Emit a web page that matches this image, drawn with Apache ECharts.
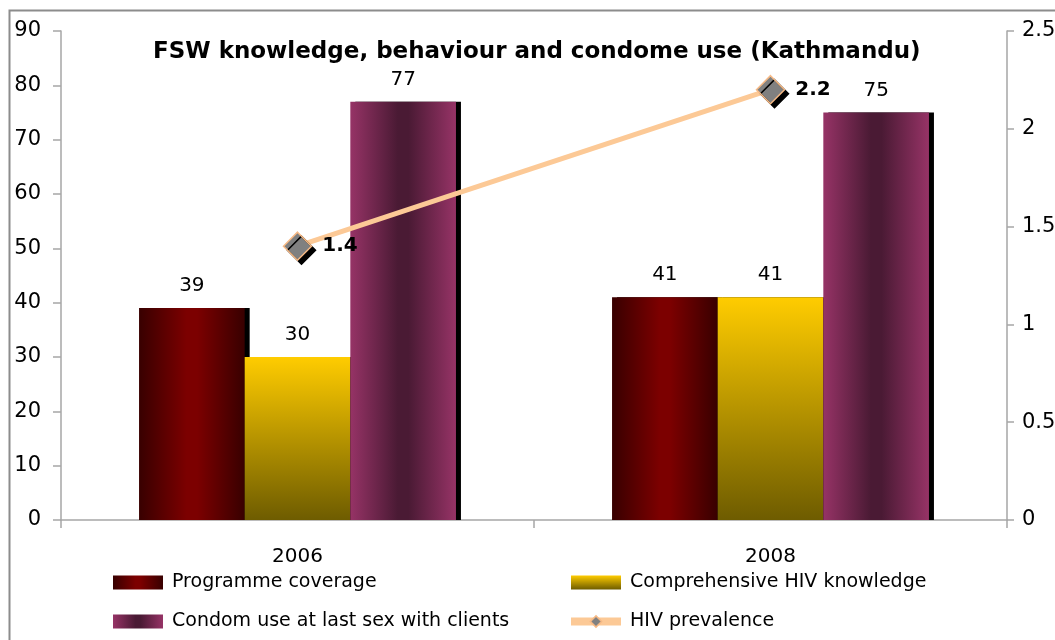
<!DOCTYPE html>
<html>
<head>
<meta charset="utf-8">
<script src="https://cdn.jsdelivr.net/npm/echarts@6/dist/echarts.min.js"></script>
<style>
  html, body { margin: 0; padding: 0; background: #fff; }
  #chart { width: 1055px; height: 640px; }
</style>
</head>
<body>
<div id="chart"></div>
<script>
const years = ['2006', '2008']
const programmeCoverage = [39, 41]
const hivKnowledge = [30, 41]
const condomUse = [77, 75]
const hivPrevalence = [1.4, 2.2]
const leftTicks = [0, 90, 10]
const rightTicks = [0, 2.5, 0.5]

const font = 'DejaVu Sans, sans-serif'

const chart = echarts.init(document.getElementById('chart'))

const hGrad = (edge, mid) => new echarts.graphic.LinearGradient(0, 0, 1, 0, [
	{ offset: 0, color: edge },
	{ offset: 0.45, color: mid },
	{ offset: 0.55, color: mid },
	{ offset: 1, color: edge }
])

const barShadow = {
	shadowColor: '#000',
	shadowOffsetX: 5,
	shadowOffsetY: 0,
	shadowBlur: 0
}

const barLabel = {
	show: true,
	position: 'top',
	distance: 12,
	color: '#000',
	fontSize: 20,
	fontFamily: font
}

const legendText = { fontSize: 19, color: '#000', fontFamily: font, padding: [0, 0, 0, 4] }

const option = {
	backgroundColor: '#fff',
	animation: false,
	textStyle: { fontFamily: font },
	graphic: [{
		type: 'rect',
		left: 7,
		top: 8,
		shape: { width: 1100, height: 700 },
		style: { fill: 'none', stroke: '#8c8c8c', lineWidth: 2 },
		silent: true
	}],
	title: {
		text: 'FSW knowledge, behaviour and condome use (Kathmandu)',
		left: 148,
		top: 36,
		textStyle: { fontSize: 23, fontWeight: 'bold', color: '#000', fontFamily: font }
	},
	legend: [{
		orient: 'vertical',
		left: 108,
		top: 568,
		itemWidth: 50,
		itemHeight: 14,
		itemGap: 20,
		textStyle: legendText,
		data: [
			{ name: 'Programme coverage', icon: 'rect' },
			{ name: 'Condom use at last sex with clients', icon: 'rect' }
		]
	}, {
		orient: 'vertical',
		left: 562,
		top: 568,
		itemWidth: 50,
		itemHeight: 14,
		itemGap: 20,
		textStyle: legendText,
		lineStyle: { width: 8 },
		itemStyle: { borderWidth: 1.5 },
		data: [
			{ name: 'Comprehensive HIV knowledge', icon: 'rect' },
			'HIV prevalence'
		]
	}],
	grid: {
		left: 61,
		right: 48,
		top: 31,
		bottom: 120,
		containLabel: false,
		outerBoundsMode: 'none'
	},
	xAxis: {
		type: 'category',
		data: years,
		axisLine: { lineStyle: { color: '#a6a6a6', width: 1.5 } },
		axisTick: { show: true, length: 8, lineStyle: { color: '#a6a6a6', width: 1.5 } },
		axisLabel: { color: '#000', fontSize: 20, margin: 27, fontFamily: font }
	},
	yAxis: [{
		type: 'value',
		min: leftTicks[0],
		max: leftTicks[1],
		interval: leftTicks[2],
		axisLine: { show: true, lineStyle: { color: '#a6a6a6', width: 1.5 } },
		axisTick: { show: true, length: 8, lineStyle: { color: '#a6a6a6', width: 1.5 } },
		axisLabel: { color: '#000', fontSize: 21, margin: 20, fontFamily: font },
		splitLine: { show: false }
	}, {
		type: 'value',
		position: 'right',
		min: rightTicks[0],
		max: rightTicks[1],
		interval: rightTicks[2],
		axisLine: { show: true, lineStyle: { color: '#a6a6a6', width: 1.5 } },
		axisTick: { show: true, length: 7, lineStyle: { color: '#a6a6a6', width: 1.5 } },
		axisLabel: { color: '#000', fontSize: 21, margin: 15, fontFamily: font },
		splitLine: { show: false }
	}],
	series: [{
		name: 'Programme coverage',
		type: 'bar',
		data: programmeCoverage,
		barGap: '0%',
		barCategoryGap: '33%',
		itemStyle: Object.assign({ color: hGrad('#380000', '#7c0000') }, barShadow),
		label: barLabel
	}, {
		name: 'Comprehensive HIV knowledge',
		type: 'bar',
		data: hivKnowledge,
		itemStyle: Object.assign({
			color: new echarts.graphic.LinearGradient(0, 0, 0, 1, [
				{ offset: 0, color: '#ffcc00' },
				{ offset: 1, color: '#6e5c00' }
			])
		}, barShadow),
		label: barLabel
	}, {
		name: 'Condom use at last sex with clients',
		type: 'bar',
		data: condomUse,
		itemStyle: Object.assign({ color: hGrad('#963366', '#4a1a34') }, barShadow),
		label: barLabel
	}, {
		name: 'HIV prevalence',
		type: 'line',
		yAxisIndex: 1,
		data: hivPrevalence,
		symbol: 'diamond',
		symbolSize: 28,
		lineStyle: { color: '#fcc996', width: 5 },
		itemStyle: {
			color: '#808080',
			borderColor: '#f6b985',
			borderWidth: 1.5,
			shadowColor: '#000',
			shadowOffsetX: 4,
			shadowOffsetY: 4,
			shadowBlur: 0
		},
		label: {
			show: true,
			position: 'right',
			distance: 10,
			color: '#000',
			fontSize: 20,
			fontWeight: 'bold',
			fontFamily: font
		},
		z: 5
	}]
}

chart.setOption(option)
</script>
</body>
</html>
